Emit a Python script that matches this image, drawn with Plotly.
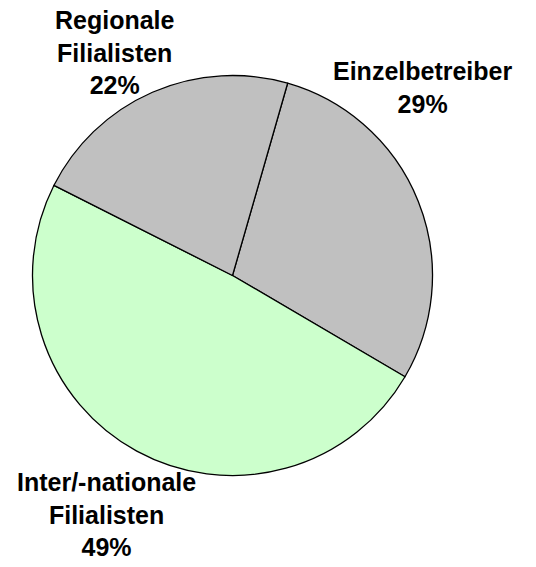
import plotly.graph_objects as go

labels = ['Einzelbetreiber', 'Inter/-nationale Filialisten', 'Regionale Filialisten']
values = [29, 49, 22]
label_text = ['Einzelbetreiber<br>29%', 'Inter/-nationale<br>Filialisten<br>49%',
              'Regionale<br>Filialisten<br>22%']

W, H = 536, 567
slice_colors = ['#C0C0C0', '#CCFFCC', '#C0C0C0']
# label block centres in pixels
label_pos = [(422, 87), (106, 514), (115, 52)]

cx, cy, r = 232.5, 275.5, 200

fig = go.Figure(go.Pie(
    labels=labels, values=values, sort=False, direction='clockwise', rotation=16,
    marker=dict(colors=slice_colors, line=dict(color='black', width=1.3)),
    textinfo='none', hoverinfo='label+percent',
    domain=dict(x=[(cx - r) / W, (cx + r) / W], y=[1 - (cy + r) / H, 1 - (cy - r) / H]),
))

for txt, (px_, py_) in zip(label_text, label_pos):
    fig.add_annotation(text='<b>' + txt + '</b>', x=px_ / W, y=1 - py_ / H,
                       xref='paper', yref='paper', xanchor='center', yanchor='middle',
                       showarrow=False, align='center', borderpad=0,
                       font=dict(family='Liberation Sans, Arial', size=25, color='black'))

fig.update_layout(width=W, height=H, margin=dict(l=0, r=0, t=0, b=0),
                  showlegend=False, plot_bgcolor='white', paper_bgcolor='white')
# drop the default 8px page margin so the figure fills the window
fig.write_html('out.html', config={'displayModeBar': False},
               post_script="document.body.style.margin='0';")
